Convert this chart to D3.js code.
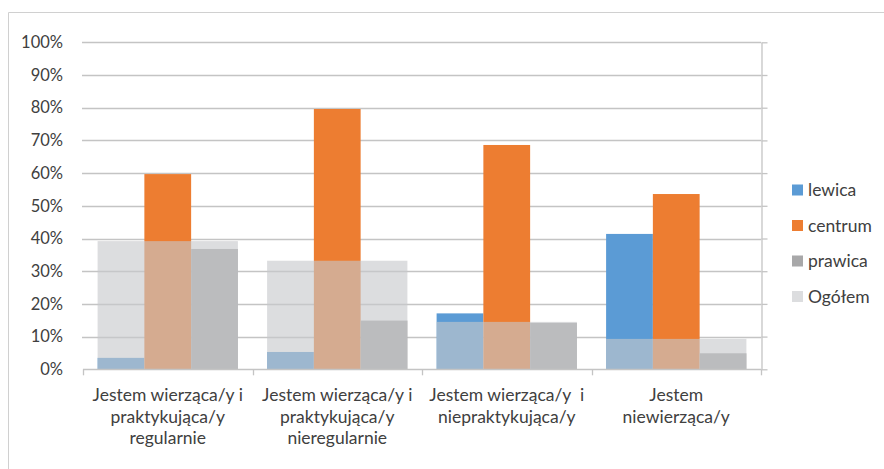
<!DOCTYPE html>
<html>
<head>
<meta charset="utf-8">
<script src="https://cdn.jsdelivr.net/npm/d3@7"></script>
<style>
  html, body { margin: 0; padding: 0; background: #fff; }
  svg { display: block; font-family: Lato, "Open Sans", sans-serif; }
  text { fill: #404040; white-space: pre; }
</style>
</head>
<body>
<svg id="chart" width="884" height="469"></svg>
<script>
// Categories (each label split into its display lines)
const categories = ["reg", "nieReg", "niePrakt", "nieWierz"];
const categoryLines = [
  ["Jestem wierząca/y i", "praktykująca/y", "regularnie"],
  ["Jestem wierząca/y i", "praktykująca/y", "nieregularnie"],
  ["Jestem wierząca/y  i", "niepraktykująca/y"],
  ["Jestem", "niewierząca/y"]
];

// Series values (share of respondents)
const seriesNames = ["lewica", "centrum", "prawica"];
const lewica  = [0.035, 0.053, 0.171, 0.414];
const centrum = [0.597, 0.796, 0.686, 0.536];
const prawica = [0.368, 0.149, 0.142, 0.049];
const ogolem  = [0.392, 0.332, 0.145, 0.093];
const ogolemName = "Ogółem";

const yTicks = [0, 0.1, 0.2, 0.3, 0.4, 0.5, 0.6, 0.7, 0.8, 0.9, 1.0];

const colors = {
  lewica: "#5B9BD5",
  centrum: "#ED7D31",
  prawica: "#A8A8A9",
  ogolem: "rgb(199,200,203)"
};
const ogolemOpacity = 0.62;

const seriesValues = { lewica, centrum, prawica };

const svg = d3.select("#chart");
const plot = { left: 83, right: 761, top: 42.3, bottom: 369.3 };

// Chart frame
svg.append("path")
  .attr("d", `M8.5,469 V12.5 H884`)
  .attr("fill", "none")
  .attr("stroke", "#D0D0D0")
  .attr("stroke-width", 1);

const x = d3.scaleBand()
  .domain(categories)
  .range([plot.left, plot.right])
  .paddingInner(0)
  .paddingOuter(0);

const groupInset = 14.6;
const x1 = d3.scaleBand()
  .domain(seriesNames)
  .range([groupInset, x.bandwidth() - groupInset]);

const y = d3.scaleLinear().domain([0, 1]).range([plot.bottom, plot.top]);

// Horizontal gridlines
svg.append("g")
  .selectAll("line")
  .data(yTicks.slice(1))
  .join("line")
  .attr("x1", plot.left - 1)
  .attr("x2", plot.right)
  .attr("y1", d => Math.round(y(d)) + 0.5)
  .attr("y2", d => Math.round(y(d)) + 0.5)
  .attr("stroke", "#C4C4C4")
  .attr("stroke-width", 1.3);

// Left value axis labels
const yAxis = d3.axisLeft(y)
  .tickValues(yTicks)
  .tickFormat(d3.format(".0%"))
  .tickSize(0)
  .tickPadding(20);
const gy = svg.append("g")
  .attr("transform", `translate(${plot.left},0)`)
  .call(yAxis);
gy.select(".domain").remove();
gy.selectAll("text")
  .style("font-size", "16.5px")
  .style("font-family", "Lato, sans-serif")
  .attr("fill", "#404040");

// Secondary axis on the right (ticks only)
const yAxisRight = d3.axisRight(y)
  .tickValues(yTicks)
  .tickFormat("")
  .tickSize(6)
  .tickSizeOuter(0);
const gyr = svg.append("g")
  .attr("transform", `translate(${plot.right + 0.5},0)`)
  .call(yAxisRight);
gyr.selectAll("line, path").attr("stroke", "#C4C4C4").attr("stroke-width", 1.3);

// Bars
const groups = svg.append("g")
  .selectAll("g")
  .data(categories)
  .join("g")
  .attr("transform", d => `translate(${x(d)},0)`);

groups.selectAll("rect.bar")
  .data((c, i) => seriesNames.map(s => ({ s, v: seriesValues[s][i] })))
  .join("rect")
  .attr("class", "bar")
  .attr("x", d => x1(d.s))
  .attr("width", x1.bandwidth())
  .attr("y", d => y(d.v))
  .attr("height", d => y(0) - y(d.v))
  .attr("fill", d => colors[d.s]);

// Overall share drawn as a translucent band across each group
groups.append("rect")
  .attr("class", "overall")
  .attr("x", groupInset)
  .attr("width", x.bandwidth() - 2 * groupInset)
  .attr("y", (c, i) => y(ogolem[i]))
  .attr("height", (c, i) => y(0) - y(ogolem[i]))
  .attr("fill", colors.ogolem)
  .attr("fill-opacity", ogolemOpacity);

// Category axis: baseline and boundary ticks
const boundaries = categories.map(c => x(c)).concat([plot.right]);
svg.append("line")
  .attr("x1", plot.left).attr("x2", plot.right)
  .attr("y1", Math.round(plot.bottom) + 0.5).attr("y2", Math.round(plot.bottom) + 0.5)
  .attr("stroke", "#C4C4C4").attr("stroke-width", 1.3);
svg.append("g")
  .selectAll("line")
  .data(boundaries)
  .join("line")
  .attr("x1", d => Math.round(d) + 0.5)
  .attr("x2", d => Math.round(d) + 0.5)
  .attr("y1", plot.bottom)
  .attr("y2", plot.bottom + 6)
  .attr("stroke", "#C4C4C4")
  .attr("stroke-width", 1.3);

// Category labels
const labels = svg.append("g")
  .selectAll("text")
  .data(categories)
  .join("text")
  .attr("text-anchor", "middle")
  .style("font-size", "17.5px")
  .attr("x", d => x(d) + x.bandwidth() / 2)
  .attr("y", 401);
labels.selectAll("tspan")
  .data((c, i) => categoryLines[i])
  .join("tspan")
  .attr("x", function () { return this.parentNode.getAttribute("x"); })
  .attr("dy", (d, j) => j === 0 ? 0 : 21.5)
  .text(d => d);

// Legend
const legendItems = [
  { name: "lewica", color: colors.lewica, opacity: 1 },
  { name: "centrum", color: colors.centrum, opacity: 1 },
  { name: "prawica", color: colors.prawica, opacity: 1 },
  { name: ogolemName, color: colors.ogolem, opacity: ogolemOpacity }
];
const legend = svg.append("g")
  .selectAll("g")
  .data(legendItems)
  .join("g")
  .attr("transform", (d, i) => `translate(792,${190 + i * 35.5})`);
legend.append("rect")
  .attr("x", 0).attr("y", -5.5)
  .attr("width", 11).attr("height", 11)
  .attr("fill", d => d.color)
  .attr("fill-opacity", d => d.opacity);
legend.append("text")
  .attr("x", 16)
  .attr("dy", "0.35em")
  .style("font-size", "17.5px")
  .text(d => d.name);
</script>
</body>
</html>
